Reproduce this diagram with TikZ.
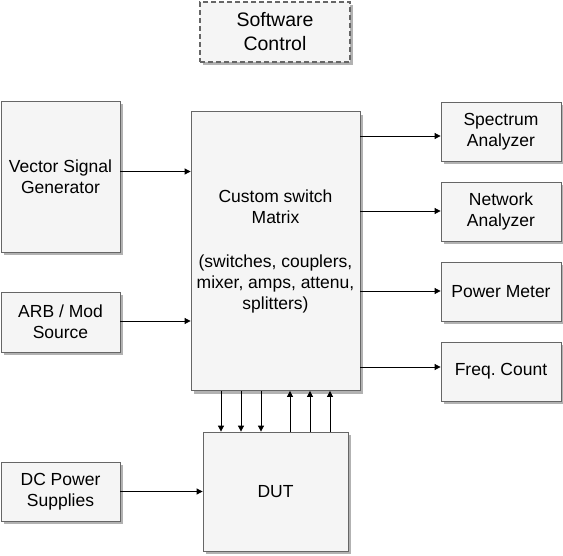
\documentclass[tikz,border=0pt]{standalone}
\usepackage{fontspec}
\setmainfont{Liberation Sans}
\usetikzlibrary{arrows.meta,shadows}

\definecolor{boxfill}{HTML}{F5F5F5}
\definecolor{boxline}{HTML}{666666}

\tikzset{
  box/.style={draw=boxline, fill=boxfill, line width=0.8pt, align=center,
    inner sep=0pt, font=\fontsize{17.5}{21}\selectfont,
    drop shadow={shadow xshift=3pt, shadow yshift=-3pt, fill=black, opacity=0.3}},
  ctrlbox/.style={box, dashed, dash pattern=on 5pt off 3pt, line width=1.4pt,
    font=\fontsize{19.5}{24}\selectfont},
  link/.style={-{Triangle[length=6pt,width=6pt]}, line width=0.8pt}
}

\begin{document}
\begin{tikzpicture}

  \useasboundingbox (0pt,0pt) rectangle (563pt,-555pt);

  %% control
  \node[ctrlbox, minimum width=150pt, minimum height=60pt] (sw) at (275pt,-32pt)
  {Software\\Control};

  %% sources
  \node[box, minimum width=119pt, minimum height=151pt] (vsg) at (60.5pt,-176.5pt)
  {Vector Signal\\Generator};
  \node[box, minimum width=119pt, minimum height=60pt] (arb) at (60.5pt,-322pt)
  {ARB / Mod\\Source};
  \node[box, minimum width=119pt, minimum height=59pt] (dc) at (60.5pt,-491.5pt)
  {DC Power\\Supplies};

  %% switch matrix
  \node[box, minimum width=169pt, minimum height=279pt] (mx) at (275.5pt,-251pt)
  {Custom switch\\Matrix\\[23pt](switches, couplers,\\mixer, amps, attenu,\\splitters)};

  %% dut
  \node[box, minimum width=145pt, minimum height=119pt] (dut) at (275.5pt,-491.5pt)
  {DUT};

  %% instruments
  \node[box, minimum width=120pt, minimum height=59pt] (sa) at (501pt,-131.5pt)
  {Spectrum\\Analyzer};
  \node[box, minimum width=120pt, minimum height=59pt] (na) at (501pt,-211.5pt)
  {Network\\Analyzer};
  \node[box, minimum width=120pt, minimum height=59pt] (pm) at (501pt,-291.5pt)
  {Power Meter};
  \node[box, minimum width=120pt, minimum height=59pt] (fc) at (501pt,-371.5pt)
  {Freq.\ Count};

  %% inputs
  \draw[link] ([yshift=79.5pt]mx.west -| vsg.east) -- ([yshift=79.5pt]mx.west);
  \draw[link] ([yshift=-70pt]mx.west -| arb.east) -- ([yshift=-70pt]mx.west);
  \draw[link] (dc.east) -- (dc.east -| dut.west);

  %% outputs
  \foreach \dev/\dy in {sa/115, na/40, pm/-40, fc/-116}
    \draw[link] ([yshift=\dy pt]mx.east) -- ([yshift=\dy pt]mx.east -| \dev.west);

  %% matrix to dut and back
  \foreach \dx in {-54.5,-34.5,-14.5}
    \draw[link] ([xshift=\dx pt]mx.south) -- ([xshift=\dx pt]dut.north);
  \foreach \dx in {14.5,34.5,54.5}
    \draw[link] ([xshift=\dx pt]dut.north) -- ([xshift=\dx pt]mx.south);

\end{tikzpicture}
\end{document}
